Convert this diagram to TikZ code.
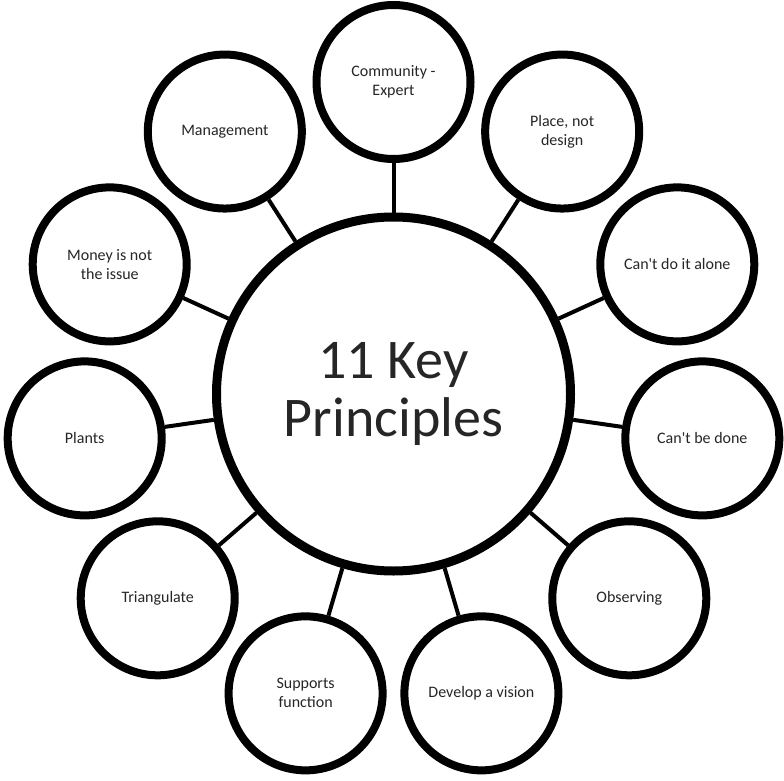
\documentclass[tikz,border=0pt]{standalone}
\usepackage{fontspec}
\setmainfont{Carlito}
\usetikzlibrary{shadows,backgrounds}
\definecolor{txt}{HTML}{262626}
\tikzset{
  soft/.style={drop shadow={shadow xshift=1pt, shadow yshift=-2.5pt, opacity=0.25, fill=black}},
  leaf/.style={circle, draw=black, line width=8pt, fill=white, minimum size=154pt,
    inner sep=0pt, align=center, text=txt, font=\fontsize{16}{19}\selectfont, soft},
  hub/.style={circle, draw=black, line width=9pt, fill=white, minimum size=354pt,
    inner sep=0pt, align=center, text=txt, font=\fontsize{56}{58}\selectfont, soft},
  spoke/.style={draw=black, line width=4pt}
}
\newcommand{\ap}{\textquotesingle}
\begin{document}
\begin{tikzpicture}[x=1pt, y=-1pt]
\useasboundingbox (0,0) rectangle (784,781);
\def\R{312}
\node[hub] (c) at (393.5,394) {11 Key\\Principles};
\foreach \i in {0,...,10}{
  \pgfmathsetmacro{\ang}{-90+\i*360/11}
  \path (c.center) ++(\ang:\R) coordinate (p\i);
}
\node[leaf] (n0) at (p0) {Community -\\Expert};
\node[leaf] (n1) at (p1) {Place, not\\design};
\node[leaf] (n2) at (p2) {Can\ap t do it alone};
\node[leaf] (n3) at (p3) {Can\ap t be done};
\node[leaf] (n4) at (p4) {Observing};
\node[leaf] (n5) at (p5) {Develop a vision};
\node[leaf] (n6) at (p6) {Supports\\function};
\node[leaf] (n7) at (p7) {Triangulate};
\node[leaf] (n8) at (p8) {Plants};
\node[leaf] (n9) at (p9) {Money is not\\the issue};
\node[leaf] (n10) at (p10) {Management};
\begin{scope}[on background layer]
\foreach \i in {0,...,10}{
  \draw[spoke] (c) -- (n\i);
}
\end{scope}
\end{tikzpicture}
\end{document}
